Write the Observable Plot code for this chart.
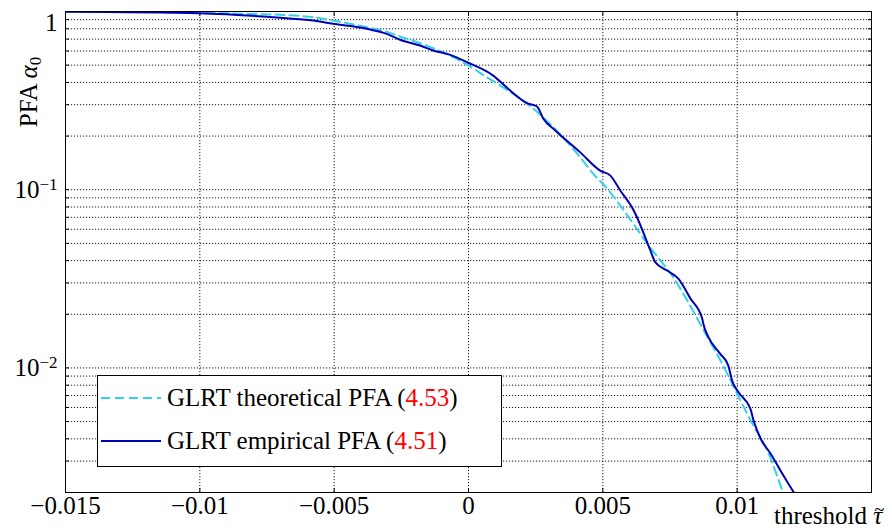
<!DOCTYPE html>
<html><head><meta charset="utf-8">
<script src="https://cdn.jsdelivr.net/npm/d3@7"></script>
<script src="https://cdn.jsdelivr.net/npm/@observablehq/plot@0.6"></script>
<style>
body{margin:0;background:#fff;}
#wrap{position:relative;width:892px;height:528px;font-family:"Liberation Serif","Tinos","Times New Roman","DejaVu Serif",serif;color:#000;}
.legend{position:absolute;left:97px;top:375px;width:405px;height:92px;box-sizing:border-box;border:1px solid #000;background:#fff;}
.row{position:absolute;left:0;height:26px;line-height:26px;font-size:25px;white-space:nowrap;}
.row svg{position:absolute;left:2px;top:0;}
.row span.t{position:absolute;left:69px;top:0;}
.red{color:#ff0000;}
</style></head>
<body><div id="wrap"></div>
<script>
const FONT = '"Liberation Serif","Tinos","Times New Roman","DejaVu Serif",serif';
// Empirical PFA (solid) — threshold / PFA
const empX = [-0.015,-0.010,-0.00888,-0.00702,-0.00579,-0.00504,-0.00378,-0.00304,-0.00255,-0.00180,-0.00132,-0.00068,-0.00005,0.00092,0.00155,0.00218,0.00255,0.00278,0.00323,0.00416,0.00490,0.00528,0.00565,0.00613,0.00627,0.00677,0.00695,0.00739,0.00781,0.00826,0.00870,0.00874,0.00893,0.00937,0.00967,0.00981,0.01005,0.01049,0.01061,0.01087,0.01124,0.01161,0.01210];
const empY = [0.996,0.978,0.962,0.922,0.890,0.853,0.800,0.749,0.694,0.644,0.604,0.571,0.519,0.437,0.360,0.306,0.293,0.251,0.215,0.162,0.128,0.120,0.0990,0.0774,0.0701,0.0456,0.0392,0.0352,0.0317,0.0245,0.0189,0.0177,0.0149,0.0120,0.01031,0.00850,0.00730,0.00592,0.00507,0.00402,0.00331,0.00266,0.00201];
// Theoretical PFA (dashed)
const theoX = [-0.015,-0.010,-0.00839,-0.00702,-0.00579,-0.00504,-0.00378,-0.00292,-0.00255,-0.00180,-0.00057,0.00006,0.00068,0.00129,0.00192,0.00241,0.00416,0.00464,0.00516,0.00565,0.00613,0.00665,0.00714,0.00762,0.00814,0.00882,0.00944,0.00994,0.01056,0.01112,0.01168];
const theoY = [0.999,0.987,0.971,0.958,0.929,0.890,0.816,0.759,0.724,0.664,0.554,0.491,0.428,0.375,0.325,0.285,0.152,0.123,0.1016,0.0815,0.0646,0.0499,0.0401,0.0323,0.0239,0.0156,0.01058,0.00747,0.00488,0.00344,0.00205];

const xTicks = [-0.015,-0.01,-0.005,0,0.005,0.01,0.015];
const xTickLabels = ["−0.015","−0.01","−0.005","0","0.005","0.01",""];
const yMajor = [1,0.1,0.01];
const yMajorLabels = ["1","10|−1","10|−2"];
const yGrid = [];
for (const base of [0.001,0.01,0.1]) for (let k=1;k<=9;k++){const v=+(base*k).toPrecision(3); if(v>=0.002) yGrid.push(v);}
yGrid.push(1);

const gridStyle = {stroke:"#000", strokeOpacity:0.9, strokeDasharray:"1.2,1.8", strokeWidth:1};
const chart = Plot.plot({
  width: 892, height: 528,
  marginLeft: 65, marginRight: 21, marginTop: 11, marginBottom: 36,
  x: {domain: [-0.015, 0.015]},
  y: {type: "log", domain: [0.002, 1]},
  style: {fontFamily: FONT, fontSize: "25px", color: "#000", background: "#fff"},
  marks: [
    Plot.ruleX(xTicks.slice(1, -1), gridStyle),
    Plot.ruleY(yGrid.slice(1, -1), gridStyle),
    Plot.axisX({ticks: xTicks, tickSize: 0, tickPadding: 4, label: null, tickFormat: d => xTickLabels[xTicks.indexOf(d)]}),
    Plot.axisX({ticks: xTicks, tickSize: -4, text: null, label: null}),
    Plot.axisX({anchor: "top", ticks: xTicks, tickSize: -4, text: null, label: null}),
    Plot.axisY({ticks: yGrid, tickSize: -4, text: null, label: null}),
    Plot.axisY({anchor: "right", ticks: yGrid, tickSize: -4, text: null, label: null}),
    Plot.axisY({ticks: yMajor, tickSize: 0, tickPadding: 8, label: null, tickFormat: d => yMajorLabels[yMajor.indexOf(d)]}),
    Plot.line(theoY, {x: theoX, y: theoY, stroke: "#33d1ea", strokeWidth: 2, strokeDasharray: "9,5", curve: "monotone-x", clip: true}),
    Plot.line(empY, {x: empX, y: empY, stroke: "#0000b4", strokeWidth: 2, curve: "monotone-x", clip: true}),
    Plot.frame({stroke: "#000", strokeWidth: 1})
  ]
});
document.getElementById("wrap").appendChild(chart);

const svg = d3.select(chart);
svg.selectAll("text").attr("font-family", FONT);
// superscript y tick labels
svg.selectAll('g[aria-label="y-axis tick label"] text').each(function(){
  const el = d3.select(this);
  const s = el.text();
  if (s.includes("|")) {
    const [b, e] = s.split("|");
    el.text(null);
    el.append("tspan").text(b);
    el.append("tspan").attr("dy", "-0.45em").attr("font-size", "17px").text(e);
  } else if (s === "1") {
    el.attr("dy", "0.45em");
  }
});
// y title
const yt = svg.append("text").attr("transform", "translate(37,92) rotate(-90)")
  .attr("text-anchor", "middle").attr("font-size", 25).attr("font-family", FONT).attr("fill", "#000");
yt.append("tspan").text("PFA ");
yt.append("tspan").attr("font-style", "italic").text("α");
yt.append("tspan").attr("font-size", 17).attr("dy", "0.25em").text("0");
// x title: "threshold τ" with a tilde accent over τ (same text element)
const xt = svg.append("text").attr("x", 774).attr("y", 524).attr("text-anchor", "start")
  .attr("font-size", 25).attr("font-family", FONT).attr("fill", "#000");
xt.append("tspan").text("threshold ");
xt.append("tspan").attr("font-style", "italic").text("τ");
const pre = "threshold ".length;
const ext = xt.node().getExtentOfChar(pre);
xt.append("tspan").attr("x", ext.x + ext.width / 2 + 1.5).attr("y", 516)
  .attr("text-anchor", "middle").attr("font-size", 19).text("~");

// legend
const leg = document.createElement("div");
leg.className = "legend";
leg.innerHTML = `
<div class="row" style="top:9px;width:100%"><svg width="64" height="26"><line x1="1" x2="61" y1="13" y2="13" stroke="#33d1ea" stroke-width="2" stroke-dasharray="9,5"/></svg><span class="t">GLRT theoretical PFA (<span class="red">4.53</span>)</span></div>
<div class="row" style="top:52px;width:100%"><svg width="64" height="26"><line x1="1" x2="61" y1="13" y2="13" stroke="#0000b4" stroke-width="2"/></svg><span class="t">GLRT empirical PFA (<span class="red">4.51</span>)</span></div>`;
document.getElementById("wrap").appendChild(leg);
</script>
</body></html>
